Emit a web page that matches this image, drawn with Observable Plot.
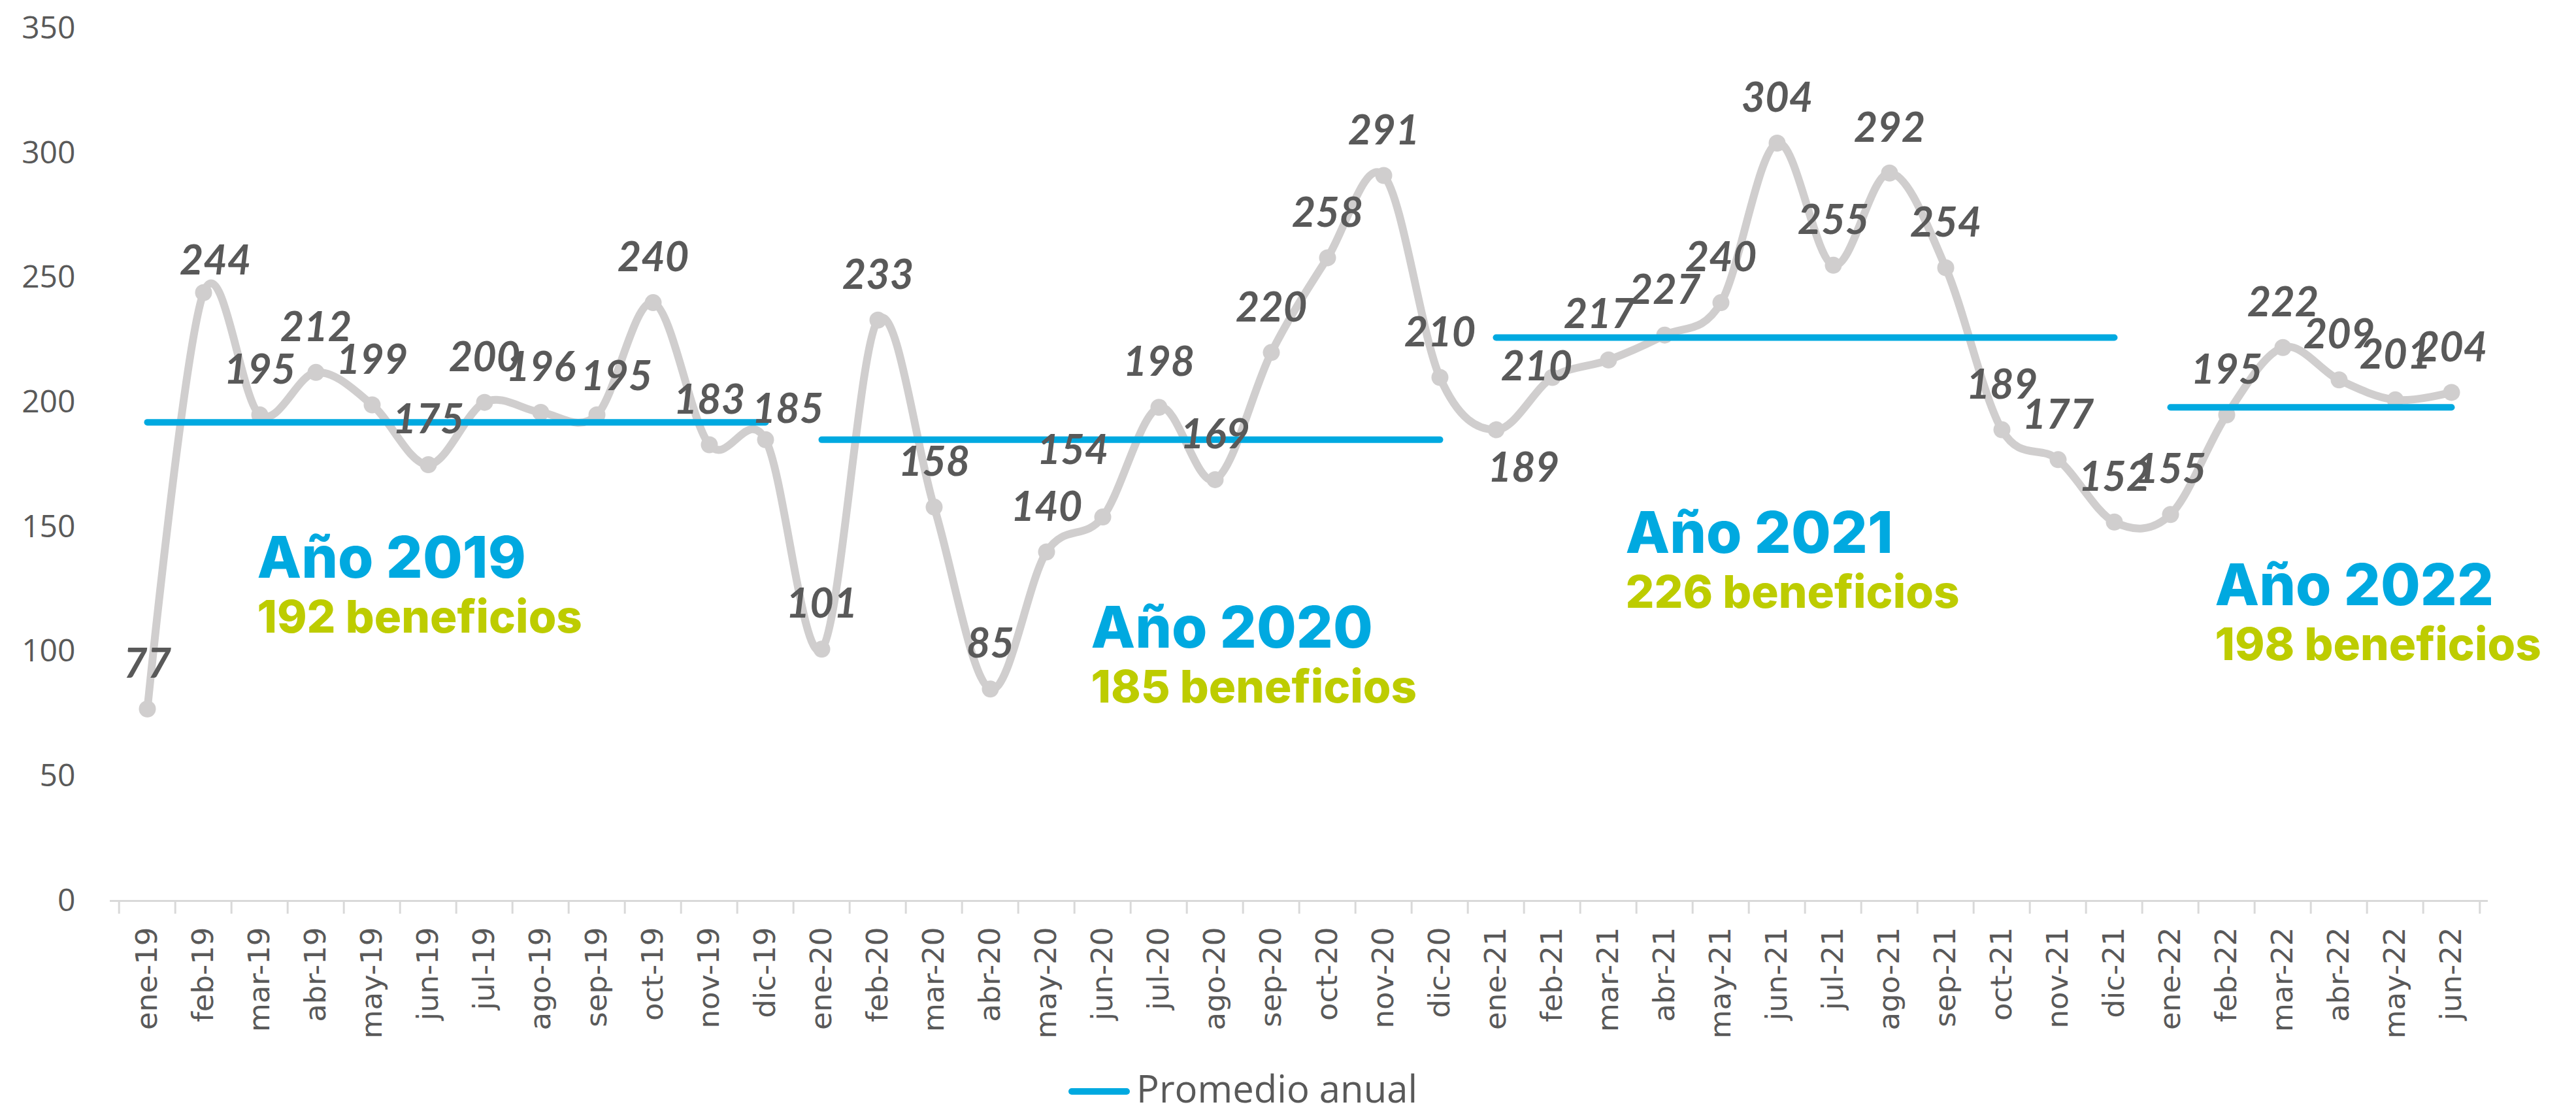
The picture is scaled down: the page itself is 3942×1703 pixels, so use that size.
<!DOCTYPE html>
<html>
<head>
<meta charset="utf-8">
<script src="https://cdn.jsdelivr.net/npm/d3@7"></script>
<script src="https://cdn.jsdelivr.net/npm/@observablehq/plot@0.6"></script>
<style>
  html, body { margin: 0; padding: 0; background: #ffffff; }
  #wrap { position: relative; width: 3942px; height: 1703px; overflow: hidden; }
  #legend { position: absolute; left: 0; top: 1626px; overflow: visible; }
</style>
</head>
<body>
<div id="wrap"></div>
<script>
// ---------------- DATA ----------------
const months = [
  "ene-19","feb-19","mar-19","abr-19","may-19","jun-19","jul-19","ago-19","sep-19","oct-19","nov-19","dic-19",
  "ene-20","feb-20","mar-20","abr-20","may-20","jun-20","jul-20","ago-20","sep-20","oct-20","nov-20","dic-20",
  "ene-21","feb-21","mar-21","abr-21","may-21","jun-21","jul-21","ago-21","sep-21","oct-21","nov-21","dic-21",
  "ene-22","feb-22","mar-22","abr-22","may-22","jun-22"
];
const values = [
  77, 244, 195, 212, 199, 175, 200, 196, 195, 240, 183, 185,
  101, 233, 158, 85, 140, 154, 198, 169, 220, 258, 291, 210,
  189, 210, 217, 227, 240, 304, 255, 292, 254, 189, 177, 152,
  155, 195, 222, 209, 201, 204
];
const years = ["2019", "2020", "2021", "2022"];
const yearAverages = [192, 185, 226, 198];
const yTicks = [0, 50, 100, 150, 200, 250, 300, 350];
const legendLabel = "Promedio anual";

// ---------------- STYLE / PLACEMENT CONFIG ----------------
const GRAY = "#d0cece", BLUE = "#00a9e0", GREEN = "#bdcc00", TEXT = "#595959";
const labelDefault = [0, -68];
const labelOffsets = {
  "feb-19": [18, -48], "sep-19": [30, -58], "dic-19": [34, -46], "jun-20": [-46, -101],
  "ene-21": [42, 59], "feb-21": [-24, -16], "mar-21": [-14, -69]
};
const annotationAnchors = [
  {month: "mar-19", value: 137, dx: -4},
  {month: "jun-20", value: 109, dx: -18},
  {month: "mar-21", value: 147, dx: 26},
  {month: "feb-22", value: 126, dx: -18}
];

// ---------------- TABLES ----------------
const data = months.map((m, i) => ({month: m, value: values[i]}));
const yearRows = years.map((y, i) => {
  const ms = months.filter(m => m.endsWith("-" + y.slice(2)));
  return {year: y, avg: yearAverages[i], start: ms[0], end: ms[ms.length - 1], ...annotationAnchors[i]};
});

// ---------------- LAYOUT ----------------
const W = 3942, H = 1630, mL = 168, mR = 135, mT = 43, mB = 252;
const bw = (W - mL - mR) / months.length;

const labelFont = {fontSize: 63, fontWeight: 700, fontStyle: "italic", fontFamily: "Lato", fill: TEXT};

const labelMarks = [
  Plot.text(data, {filter: d => !(d.month in labelOffsets), x: "month", y: "value",
    text: d => String(d.value), dx: labelDefault[0], dy: labelDefault[1], ...labelFont}),
  ...Object.entries(labelOffsets).map(([m, [dx, dy]]) =>
    Plot.text(data, {filter: d => d.month === m, x: "month", y: "value",
      text: d => String(d.value), dx, dy, ...labelFont}))
];

const annotationMarks = yearRows.flatMap(r => [
  Plot.text([r], {x: "month", y: "value", text: d => "Año " + d.year, dx: r.dx,
    textAnchor: "start", lineAnchor: "middle", fontFamily: "Inter", fontWeight: 800,
    fontSize: 88, fill: BLUE}),
  Plot.text([r], {x: "month", y: "value", text: d => d.avg + " beneficios", dx: r.dx, dy: 90,
    textAnchor: "start", lineAnchor: "middle", fontFamily: "Inter", fontWeight: 800,
    fontSize: 69, fill: GREEN})
]);

const chart = Plot.plot({
  width: W, height: H,
  marginLeft: mL, marginRight: mR, marginTop: mT, marginBottom: mB,
  style: {fontFamily: "Open Sans", background: "#ffffff", overflow: "visible"},
  x: {type: "band", domain: months, padding: 0, label: null},
  y: {domain: [0, 350], label: null},
  marks: [
    Plot.axisY({ticks: yTicks, tickSize: 0, tickPadding: 53, fontSize: 48,
      fontFamily: "Open Sans", fill: TEXT, label: null}),
    Plot.ruleY([0], {stroke: "#d9d9d9", strokeWidth: 3}),
    Plot.axisX({ticks: months, tickSize: 20, text: null, stroke: "#d9d9d9", strokeWidth: 3, dx: -bw / 2, label: null}),
    Plot.axisX({ticks: [months[months.length - 1]], tickSize: 20, text: null, stroke: "#d9d9d9", strokeWidth: 3, dx: bw / 2, label: null}),
    Plot.axisX({ticks: months, tickSize: 0, tickPadding: 40, tickRotate: -90, fontSize: 45,
      fontFamily: "DejaVu Sans", fill: TEXT, label: null}),
    Plot.line(data, {x: "month", y: "value", curve: "cardinal", stroke: GRAY, strokeWidth: 12}),
    Plot.dot(data, {x: "month", y: "value", r: 13, fill: GRAY}),
    Plot.link(yearRows, {x1: "start", x2: "end", y1: "avg", y2: "avg", stroke: BLUE,
      strokeWidth: 10, strokeLinecap: "round"}),
    ...labelMarks,
    ...annotationMarks
  ]
});

const wrap = document.getElementById("wrap");
wrap.appendChild(chart);

// ---------------- LEGEND ----------------
const legend = d3.create("svg").attr("id", "legend").attr("width", W).attr("height", 77);
legend.append("line").attr("x1", 1640).attr("x2", 1724).attr("y1", 44).attr("y2", 44)
  .attr("stroke", BLUE).attr("stroke-width", 10).attr("stroke-linecap", "round");
legend.append("text").attr("x", 1739).attr("y", 61).attr("fill", TEXT)
  .attr("font-family", "Open Sans").attr("font-size", 58).text(legendLabel);
wrap.appendChild(legend.node());
</script>
</body>
</html>
